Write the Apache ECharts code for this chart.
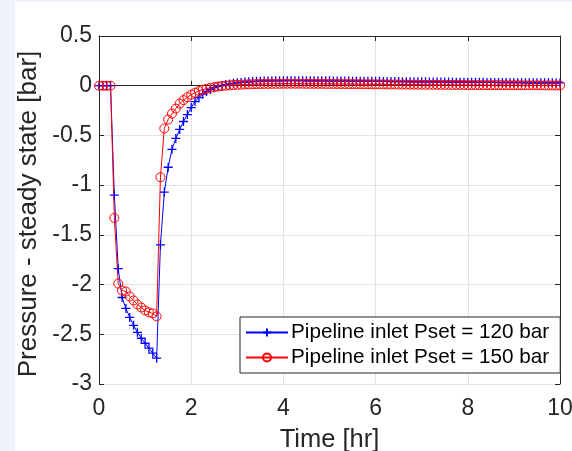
<!DOCTYPE html>
<html>
<head>
<meta charset="utf-8">
<script src="https://cdn.jsdelivr.net/npm/echarts@6/dist/echarts.min.js"></script>
<style>
html,body{margin:0;padding:0;background:#eef2fa;width:572px;height:451px;overflow:hidden;}
#chart{position:absolute;left:15px;top:2px;width:557px;height:449px;background:#ffffff;}
</style>
</head>
<body>
<div id="chart"></div>
<script>
var timeHr = [
0,0.083,0.167,0.25,0.333,0.417,0.5,0.583,0.667,0.75,0.833,0.917,
1,1.083,1.167,1.25,1.333,1.417,1.5,1.583,1.667,1.75,1.833,1.917,
2,2.083,2.167,2.25,2.333,2.417,2.5,2.583,2.667,2.75,2.833,2.917,
3,3.083,3.167,3.25,3.333,3.417,3.5,3.583,3.667,3.75,3.833,3.917,
4,4.083,4.167,4.25,4.333,4.417,4.5,4.583,4.667,4.75,4.833,4.917,
5,5.083,5.167,5.25,5.333,5.417,5.5,5.583,5.667,5.75,5.833,5.917,
6,6.083,6.167,6.25,6.333,6.417,6.5,6.583,6.667,6.75,6.833,6.917,
7,7.083,7.167,7.25,7.333,7.417,7.5,7.583,7.667,7.75,7.833,7.917,
8,8.083,8.167,8.25,8.333,8.417,8.5,8.583,8.667,8.75,8.833,8.917,
9,9.083,9.167,9.25,9.333,9.417,9.5,9.583,9.667,9.75,9.833,9.917,
10];

var p120 = [
0,0,0,0,-1.10,-1.84,-2.13,-2.24,-2.33,-2.41,-2.48,-2.54,
-2.59,-2.64,-2.69,-2.74,-1.60,-1.07,-0.82,-0.64,-0.53,-0.44,-0.36,-0.29,
-0.22,-0.16,-0.12,-0.085,-0.058,-0.037,-0.02,-0.007,0.003,0.011,0.018,0.024,
0.029,0.033,0.037,0.040,0.042,0.044,0.046,0.047,0.048,0.049,0.050,0.050,
0.051,0.051,0.051,0.051,0.051,0.051,0.050,0.050,0.050,0.050,0.049,0.049,
0.049,0.048,0.048,0.048,0.047,0.047,0.046,0.046,0.046,0.045,0.045,0.044,
0.044,0.044,0.043,0.043,0.042,0.042,0.042,0.041,0.041,0.040,0.040,0.040,
0.039,0.039,0.038,0.038,0.038,0.037,0.037,0.037,0.036,0.036,0.036,0.035,
0.035,0.035,0.034,0.034,0.034,0.033,0.033,0.033,0.032,0.032,0.032,0.031,
0.031,0.031,0.031,0.030,0.030,0.030,0.030,0.029,0.029,0.029,0.029,0.028,
0.028];

var p150 = [
0,0,0,0,-1.33,-1.99,-2.06,-2.07,-2.12,-2.16,-2.20,-2.23,
-2.26,-2.28,-2.29,-2.32,-0.92,-0.43,-0.34,-0.28,-0.23,-0.18,-0.145,-0.115,
-0.09,-0.07,-0.053,-0.04,-0.03,-0.021,-0.014,-0.008,-0.003,0.001,0.004,0.007,
0.009,0.011,0.013,0.014,0.015,0.016,0.017,0.018,0.018,0.019,0.019,0.019,
0.020,0.020,0.020,0.020,0.020,0.020,0.019,0.019,0.019,0.019,0.019,0.018,
0.018,0.018,0.018,0.017,0.017,0.017,0.016,0.016,0.016,0.015,0.015,0.015,
0.014,0.014,0.014,0.013,0.013,0.013,0.012,0.012,0.012,0.011,0.011,0.011,
0.010,0.010,0.010,0.010,0.009,0.009,0.009,0.009,0.008,0.008,0.008,0.008,
0.007,0.007,0.007,0.007,0.006,0.006,0.006,0.006,0.006,0.005,0.005,0.005,
0.005,0.005,0.004,0.004,0.004,0.004,0.004,0.004,0.003,0.003,0.003,0.003,
0.003];

var seriesNames = ['Pipeline inlet Pset = 120 bar', 'Pipeline inlet Pset = 150 bar'];
var xLabel = 'Time [hr]';
var yLabel = 'Pressure - steady state [bar]';

function pairs(t, v) { return t.map(function (x, i) { return [x, v[i]]; }); }

var FONT = '"Liberation Sans", Arial, sans-serif';
var AX = '#262626';
var chart = echarts.init(document.getElementById('chart'), null, {renderer: 'canvas'});

var plusPath = 'path://M0,5L10,5M5,0L5,10';

chart.setOption({
  animation: false,
  textStyle: {fontFamily: FONT},
  grid: {left: 84, right: 12, top: 34, height: 348, containLabel: false, outerBoundsMode: 'none'},
  xAxis: [{
    type: 'value', min: 0, max: 10, interval: 2, position: 'bottom',
    name: xLabel, nameLocation: 'middle', nameGap: 43,
    nameTextStyle: {fontSize: 25.5, color: AX, fontFamily: FONT},
    axisLine: {show: true, lineStyle: {color: AX, width: 1}},
    axisTick: {show: true, inside: true, length: 5, lineStyle: {color: AX}},
    axisLabel: {fontSize: 23, color: AX, margin: 13, fontFamily: FONT},
    splitLine: {show: true, lineStyle: {color: '#e3e3e3', width: 1}}
  }, {
    type: 'value', min: 0, max: 10, interval: 2, position: 'top',
    axisLine: {show: true, onZero: false, lineStyle: {color: AX, width: 1}},
    axisTick: {show: true, inside: true, length: 5, lineStyle: {color: AX}},
    axisLabel: {show: false}, splitLine: {show: false}
  }],
  yAxis: [{
    type: 'value', min: -3, max: 0.5, interval: 0.5, position: 'left',
    name: yLabel, nameLocation: 'middle', nameGap: 51, nameRotate: 90,
    nameTextStyle: {fontSize: 26, color: AX, fontFamily: FONT, padding: [0, 8, 0, 0]},
    axisLine: {show: true, onZero: false, lineStyle: {color: AX, width: 1}},
    axisTick: {show: true, inside: true, length: 5, lineStyle: {color: AX}},
    axisLabel: {fontSize: 23, color: AX, margin: 7, fontFamily: FONT},
    splitLine: {show: true, lineStyle: {color: '#e3e3e3', width: 1}}
  }, {
    type: 'value', min: -3, max: 0.5, interval: 0.5, position: 'right',
    axisLine: {show: true, onZero: false, lineStyle: {color: AX, width: 1}},
    axisTick: {show: true, inside: true, length: 5, lineStyle: {color: AX}},
    axisLabel: {show: false}, splitLine: {show: false}
  }],
  legend: {
    show: true, orient: 'vertical', left: 225, top: 315,
    backgroundColor: '#ffffff', borderColor: AX, borderWidth: 1, borderRadius: 0,
    padding: [5, 11, 5, 5], itemGap: 4, itemWidth: 42, itemHeight: 10,
    textStyle: {fontSize: 20.7, color: '#000000', fontFamily: FONT, padding: [0, 0, 0, -2]},
    data: seriesNames
  },
  series: [{
    name: seriesNames[0], type: 'line', data: pairs(timeHr, p120),
    xAxisIndex: 0, yAxisIndex: 0,
    symbol: plusPath, symbolSize: 9, showSymbol: true,
    lineStyle: {color: '#0000ff', width: 1},
    itemStyle: {color: '#0000ff', borderColor: '#0000ff', borderWidth: 1.3},
    emphasis: {disabled: true}
  }, {
    name: seriesNames[1], type: 'line', data: pairs(timeHr, p150),
    xAxisIndex: 0, yAxisIndex: 0,
    symbol: 'circle', symbolSize: 9, showSymbol: true,
    lineStyle: {color: '#ff0000', width: 1},
    itemStyle: {color: 'rgba(255,255,255,0)', borderColor: '#ff0000', borderWidth: 1},
    emphasis: {disabled: true}
  }]
});
</script>
</body>
</html>
